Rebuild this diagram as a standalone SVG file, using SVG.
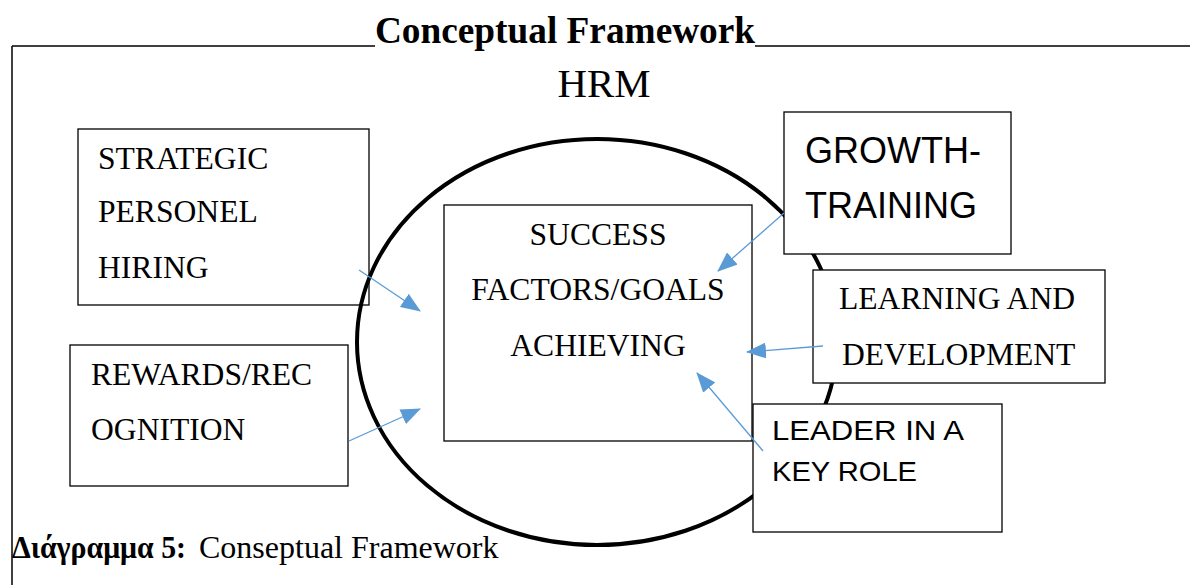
<svg xmlns="http://www.w3.org/2000/svg" width="1190" height="585" viewBox="0 0 1190 585">
<style>
.serif{font-family:"Liberation Serif","Times New Roman",serif;fill:#000}
.sans{font-family:"Liberation Sans",Arial,sans-serif;fill:#000}
.box{fill:#fff;stroke:#000;stroke-width:1.3}
.open{fill:none;stroke:#000;stroke-width:1.3}
.rule{stroke:#000;stroke-width:1.5;fill:none}
.conn{stroke:#5B9BD5;stroke-width:1.3;fill:none;marker-end:url(#ah)}
</style>
<defs>
<marker id="ah" markerUnits="userSpaceOnUse" markerWidth="20" markerHeight="16" viewBox="0 0 20 16" refX="19" refY="8" orient="auto">
<path d="M0,0 L20,8 L0,16 Z" fill="#5B9BD5"/>
</marker>
</defs>
<rect width="1190" height="585" fill="#fff"/>
<g id="frame">
<line class="rule" x1="12" y1="46" x2="375" y2="46"/>
<line class="rule" x1="755" y1="46" x2="1190" y2="46"/>
<line class="rule" x1="12" y1="46" x2="12" y2="585"/>
<text class="serif" x="565" y="43" font-size="37.3" font-weight="bold" text-anchor="middle">Conceptual Framework</text>
<text class="serif" x="604" y="97" font-size="40.8" text-anchor="middle">HRM</text>
</g>
<g id="hrm-ellipse">
<ellipse cx="597" cy="342" rx="240" ry="203" fill="none" stroke="#000" stroke-width="4"/>
</g>
<g id="strategic">
<rect class="open" x="78" y="129" width="291" height="176"/>
<text class="serif" x="98" y="169" font-size="31.6">STRATEGIC</text>
<text class="serif" x="98" y="222" font-size="31.6">PERSONEL</text>
<text class="serif" x="98" y="278" font-size="31.6">HIRING</text>
</g>
<g id="rewards">
<rect class="box" x="70" y="345" width="278" height="141"/>
<text class="serif" x="91" y="385" font-size="31.6">REWARDS/REC</text>
<text class="serif" x="91" y="440" font-size="31.6">OGNITION</text>
</g>
<g id="success">
<rect class="box" x="444" y="205" width="308" height="236"/>
<text class="serif" x="598" y="245" font-size="31.6" text-anchor="middle">SUCCESS</text>
<text class="serif" x="598" y="300" font-size="31.6" text-anchor="middle">FACTORS/GOALS</text>
<text class="serif" x="598" y="356" font-size="31.6" text-anchor="middle">ACHIEVING</text>
</g>
<g id="growth">
<rect class="box" x="784" y="112" width="227" height="142"/>
<text class="sans" x="805" y="163" font-size="36">GROWTH-</text>
<text class="sans" x="805" y="218" font-size="36">TRAINING</text>
</g>
<g id="learning">
<rect class="box" x="813" y="270" width="292" height="113"/>
<text class="serif" x="839" y="309" font-size="31.6">LEARNING AND</text>
<text class="serif" x="842" y="365" font-size="31.6">DEVELOPMENT</text>
</g>
<g id="leader">
<rect class="box" x="753" y="404" width="249" height="128"/>
<text class="sans" x="772" y="440" font-size="28" textLength="192" lengthAdjust="spacingAndGlyphs">LEADER IN A</text>
<text class="sans" x="772" y="481" font-size="28" textLength="145" lengthAdjust="spacingAndGlyphs">KEY ROLE</text>
</g>
<g id="connectors">
<line class="conn" x1="359" y1="270" x2="420" y2="311"/>
<line class="conn" x1="349" y1="441" x2="420" y2="409"/>
<line class="conn" x1="784" y1="213" x2="718" y2="271"/>
<line class="conn" x1="823" y1="346" x2="747" y2="352" stroke-width="2.5"/>
<line class="conn" x1="763" y1="451" x2="697" y2="373"/>
</g>
<g id="caption">
<text class="serif" x="12" y="558" font-size="32"><tspan font-weight="bold" textLength="174" lengthAdjust="spacingAndGlyphs">Διάγραμμα 5:</tspan><tspan x="199">Conseptual Framework</tspan></text>
</g>
</svg>
